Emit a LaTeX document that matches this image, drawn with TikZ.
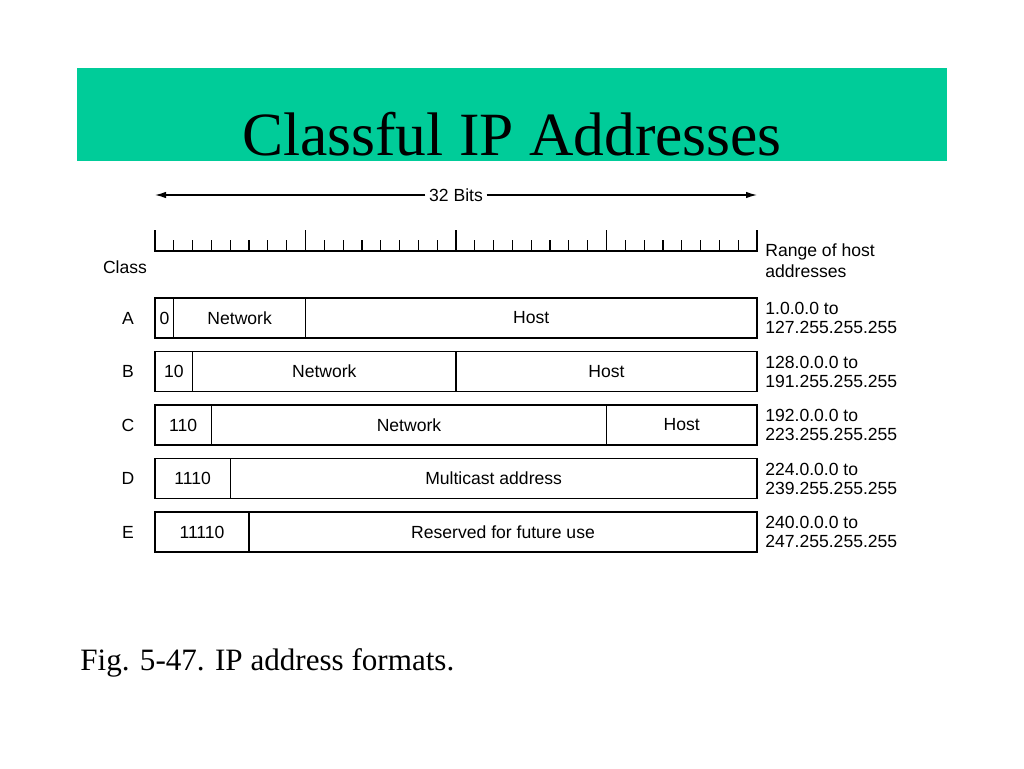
\documentclass[tikz,border=0pt]{standalone}
\usepackage{fontspec}
\usetikzlibrary{arrows.meta}
\setmainfont{Liberation Serif}
\newfontfamily\figfont{Liberation Sans}
\definecolor{banner}{RGB}{0,204,153}
\tikzset{
  lbl/.style={font=\figfont\fontsize{10}{12}\selectfont, inner sep=0pt},
  rng/.style={lbl, anchor=west},
  rule/.style={line width=0.7pt}
}
\begin{document}
\begin{tikzpicture}[x=0.02cm, y=-0.02cm, >={Latex[length=2.2mm,width=1.3mm]}]
\useasboundingbox (0,0) rectangle (1024,768);
\fill[banner] (77,68) rectangle (947,161);
\node (title) at (512,134) {\fontsize{35}{40}\selectfont Classful IP Addresses};

\node[lbl, inner sep=2pt] (bits) at (456,195) {32 Bits};
\coordinate (bitsL) at (155,195);
\coordinate (bitsR) at (757,195);
\draw[rule, ->] (bits) -- (bitsL);
\draw[rule, ->] (bits) -- (bitsR);

% ruler
\draw[rule] (155,230) -- (155,251) -- (757,251) -- (757,230);
\foreach \b in {1,...,31}
{
    \draw[rule] (155+18.8125*\b,251) -- ++(0,-11);
}
\foreach \b in {8,16,24}
{
    \draw[rule] (155+18.8125*\b,251) -- ++(0,-21);
}
\node[lbl] (class) at (125,267) {Class};
\node[rng] (range1) at (765,252) {Range of host};
\node[rng] (range2) at (765,271) {addresses};

% rows
\foreach \r/\cls/\rlo/\rhi in {0/A/1.0.0.0/127.255.255.255, 1/B/128.0.0.0/191.255.255.255,
  2/C/192.0.0.0/223.255.255.255, 3/D/224.0.0.0/239.255.255.255, 4/E/240.0.0.0/247.255.255.255}
{
    \draw[rule] (155,298+53.5*\r) rectangle (757,338+53.5*\r);
    \node[lbl] (cls\r) at (128,318+53.5*\r) {\cls};
    \node[rng] (lo\r) at (765,308.5+53.5*\r) {\rlo{} to};
    \node[rng] (hi\r) at (765,327.5+53.5*\r) {\rhi};
}
\foreach \r/\a/\b/\txt in {0/0/1/0, 0/1/8/Network, 0/8/32/Host,
  1/0/2/10, 1/2/16/Network, 1/16/32/Host,
  2/0/3/110, 2/3/24/Network, 2/24/32/Host,
  3/0/4/1110, 3/4/32/Multicast address,
  4/0/5/11110, 4/5/32/Reserved for future use}
{
    \ifnum\a>0 \draw[rule] (155+18.8125*\a,298+53.5*\r) -- ++(0,40); \fi
    \node[lbl] (f\r-\a) at ({155+18.8125*(\a+\b)/2},318+53.5*\r) {\txt};
}

\node[anchor=west, inner sep=0pt] (caption) at (80,663) {\fontsize{17.7}{20}\selectfont Fig. 5-47. IP address formats.};
\end{tikzpicture}
\end{document}
